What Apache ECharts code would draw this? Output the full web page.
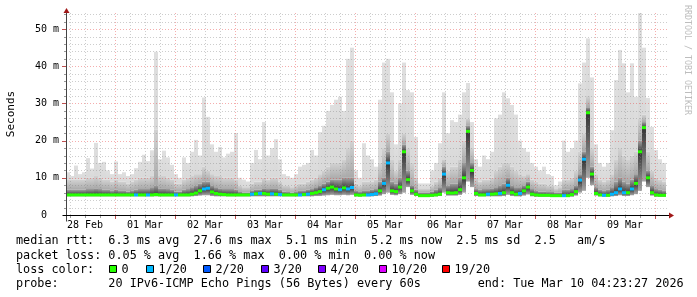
<!DOCTYPE html>
<html><head><meta charset="utf-8">
<script src="https://cdn.jsdelivr.net/npm/echarts@6/dist/echarts.min.js"></script>
<style>html,body{margin:0;padding:0;background:#fff}#c{width:697px;height:297px}</style>
</head><body><div id="c"></div>
<script>
// time axis in hours since 28 Feb 00:00 ; graph spans 28 Feb 04:23:27 -> 10 Mar 04:23:27
const startHour = 4.3908;
const endHour = 244.3908;
const stepHours = 1.6;          // one sampled column
const yMax = 54.6;              // ms
const dayLabels = ['28 Feb','01 Mar','02 Mar','03 Mar','04 Mar','05 Mar','06 Mar','07 Mar','08 Mar','09 Mar'];
const dayLabelHours = [12,36,60,84,108,132,156,180,204,228];
const yTickValues = [0,10,20,30,40,50];

// smoke: max ping (light), ~p90 (medium), ~p75 (dark), median, min ping  [ms]
const maxPing = [
 11.5,10.5,13.3,11,11.5,15.3,12.5,19.4,14,14.3,
 12,11,14.4,11,11.5,10.5,11,12.6,14.3,16.2,
 14.5,17.4,43.9,15,17.3,15.5,13.5,11,10,15.5,
 14,17,20.2,16,31.6,26.4,19,17,18.3,15.5,
 16.5,17,22,10,9.5,9,14,17.5,15,25,
 16,18,20.4,15,11,10.5,10,11,13,13.5,
 14,17.5,16,22.3,24,28,29.6,31,31.8,28,
 42,45,12,10,19.3,16,15,13,31,41,
 42,33,19,30,41,33.6,33,21,8.5,8.5,
 8.5,12,14,19.3,33,22,25.5,25,27,33,
 35.5,25,15,13,16,15,17,26,27,33,
 31.4,29.6,27,20,18,17,14,13,12,13,
 11,10.5,8,9,20,17,18,20,35.4,41,
 47.5,37,19,14,13,14,22.8,36.3,44.4,40.8,
 33,40.8,31.8,54.3,45,31.5,23.7,17.5,15,14
];
const p90Ping = [
 9.5,9.5,9.5,9.5,9.5,10,10,10.5,10,9.5,
 9.5,9,9.5,9,9,8.5,9,9.5,10,10,
 10,10.5,23,10.5,10.5,10,9.5,8.5,8.5,9.5,
 10,10.5,11,11,13,12,11,10.5,10.5,10,
 10,10,9.5,8,7.5,7.5,8.5,9,9,10,
 9.5,10,10,9,8,8,7.5,8,8.5,8.5,
 9,9.5,10,11,12,13,14,14,14,15,
 18,20,8.5,8,9,9,9,9.5,14,18,
 22,15,12,15,22,18,14,10,7,7,
 7,8,9,10,15,12,13,13,15,20,
 26,18,10,9,9.5,9.5,10,12,13,14,
 14,13,12,11,10.5,11,9.5,9,8.5,8.5,
 8,8,7,7.5,9.5,9.5,10,12,17,22,
 32,18,11,9.5,9,9.5,11,15,18,16,
 15,16,17,26,27,17,12,10,9.5,9
];
const p75Ping = [
 6.8,6.8,6.8,6.8,6.8,7,7,7.2,7,6.8,
 6.8,6.5,6.8,6.5,6.5,6.3,6.5,6.8,7,7,
 7,7.5,8,7.2,7.2,7,6.8,6.3,6.3,6.8,
 7,7.5,8,8.5,9,9,8,7.5,7.2,7,
 7,7,6.8,6.2,6,6,6.5,6.8,6.8,7.2,
 7,7.2,7.2,6.8,6.3,6.2,6,6.2,6.5,6.5,
 6.8,7,7.5,8,8.5,9,9.5,9.5,9.5,10,
 10,10,6.5,6.2,6.5,6.5,6.8,7,9,10,
 17,9,8.5,10,19,12,8,6.8,6,6,
 6,6.3,6.8,7.5,13,8,8.5,8.5,10,14,
 24,14,7,6.8,7,7,7.2,7.5,8,8.5,
 10,8,7.5,7.5,8,9,7,6.5,6.3,6.3,
 6.2,6.2,6,6,6.8,6.8,7,8,11,17,
 29,13,7.5,6.8,6.5,6.8,7.5,9,10,9,
 8.5,9.5,11,20,25,12,8,7,6.8,6.5
];
const medianPing = [
 5.4,5.4,5.4,5.4,5.4,5.4,5.4,5.4,5.4,5.4,
 5.4,5.4,5.4,5.4,5.4,5.4,5.4,5.4,5.4,5.4,
 5.4,5.4,5.5,5.4,5.4,5.4,5.4,5.4,5.4,5.4,
 5.4,5.6,5.9,6.5,7.0,7.2,6.2,5.8,5.6,5.5,
 5.4,5.4,5.4,5.4,5.4,5.4,5.6,5.7,5.8,5.8,
 5.6,5.7,5.6,5.5,5.4,5.4,5.4,5.4,5.4,5.5,
 5.6,5.8,6.0,6.3,6.8,7.2,7.5,7.0,6.8,7.3,
 7.0,7.4,5.4,5.3,5.4,5.4,5.5,5.7,6.5,8.5,
 14,6.5,6.3,7.5,17,9.5,6.5,5.6,5.2,5.2,
 5.2,5.3,5.4,5.6,11,6.0,5.9,6.0,6.8,10,
 22.5,12,5.8,5.4,5.4,5.6,5.6,5.7,5.8,6.0,
 8.0,6.0,5.6,5.8,6.5,7.5,5.6,5.4,5.3,5.3,
 5.3,5.2,5.2,5.2,5.2,5.2,5.5,6.3,9.4,15,
 27.5,11,5.8,5.4,5.3,5.3,5.6,6.0,7.0,6.0,
 6.0,7.0,8.5,17,23.5,10,6.0,5.4,5.3,5.3
];
const minPing = [
 5,5,5,5,5,5,5,5,5,5,
 5,5,5,5,5,5,5,5,5,5,
 5,5,5,5,5,5,5,5,5,5,
 5,5,5.1,5.2,5.3,5.3,5.1,5,5,5,
 5,5,5,5,5,5,5,5,5,5,
 5,5,5,5,5,5,5,5,5,5,
 5,5,5.1,5.1,5.2,5.3,5.4,5.3,5.3,5.4,
 5.3,5.4,5,5,5,5,5,5.1,5.2,5.6,
 6,5.4,5.3,5.6,6,7.5,5.4,5.1,4.9,4.9,
 4.9,4.9,5,5.1,6,5.2,5.2,5.2,5.4,6,
 9,7.5,5.1,5,5,5,5,5,5,5.1,
 5.4,5.1,5,5,5.2,5.5,5,4.9,4.9,4.9,
 4.9,4.9,4.9,4.9,4.9,4.9,4.9,5.2,6,6.5,
 10,8,5.2,5,4.9,4.9,5,5.1,5.3,5.1,
 5.1,5.3,5.6,6.5,9,7.5,5.2,4.9,4.9,4.9
];
// lost pings out of 20 for each column (index into loss colour table)
const lossIndex = [
 0,0,0,0,0,0,0,0,0,0,
 0,0,0,0,0,0,0,1,0,0,
 1,0,0,0,0,0,0,1,0,0,
 0,0,0,0,1,1,0,0,0,0,
 0,0,0,0,0,0,1,0,1,0,
 0,1,0,1,0,0,0,0,1,0,
 1,0,0,0,1,0,0,0,1,0,
 1,1,0,0,0,1,1,1,0,1,
 1,0,0,0,0,0,0,0,0,0,
 0,0,0,0,1,0,0,0,0,0,
 0,0,0,0,0,1,0,0,1,0,
 1,0,0,1,0,0,0,0,0,0,
 0,0,0,0,1,0,0,0,1,1,
 0,0,0,0,1,0,1,1,1,1,
 0,1,0,0,0,0,0,0,0,0
];
const lossColors = ['#26ff00','#00b8ff','#0059ff','#5e00ff','#7e00ff','#dd00ff','#ff0000'];
const lossLabels = ['0','1/20','2/20','3/20','4/20','10/20','19/20'];

const legendLines = [
 'median rtt:  6.3 ms avg  27.6 ms max  5.1 ms min  5.2 ms now  2.5 ms sd  2.5   am/s',
 'packet loss: 0.05 % avg  1.66 % max  0.00 % min  0.00 % now',
 'loss color:',
 'probe:       20 IPv6-ICMP Echo Pings (56 Bytes) every 60s        end: Tue Mar 10 04:23:27 2026'
];

const MONO = '"DejaVu Sans Mono", "Liberation Mono", monospace';

const smokeData = maxPing.map((h, i) => [startHour + i * stepHours, minPing[i], medianPing[i], p75Ping[i], p90Ping[i], h, i]);
const medianData = medianPing.map((m, i) => [startHour + i * stepHours, m, lossIndex[i], i]);

function grad(top, bottom) {
  return {type: 'linear', x: 0, y: 0, x2: 0, y2: 1, colorStops: [{offset: 0, color: top}, {offset: 1, color: bottom}]};
}

const chart = echarts.init(document.getElementById('c'), null, {renderer: 'canvas'});

const option = {
  animation: false,
  backgroundColor: '#ffffff',
  grid: {left: 66, right: 31, top: 12, bottom: 82},
  xAxis: {type: 'value', min: startHour, max: endHour, show: false},
  yAxis: {
    type: 'value', min: 0, max: yMax, interval: 10,
    axisLine: {show: false}, axisTick: {show: false}, splitLine: {show: false},
    axisLabel: {
      margin: 7, color: '#000', fontFamily: MONO, fontSize: 10,
      formatter: v => yTickValues.indexOf(v) < 0 ? '' : (v === 0 ? '0  ' : v + ' m')
    }
  },
  series: [
    { // smoke
      type: 'custom', z: 1, clip: true,
      encode: {x: 0, y: 5},
      data: smokeData,
      renderItem: function (params, api) {
        const t = api.value(0);
        const x0 = api.coord([t, 0])[0];
        const x1 = api.coord([t + stepHours, 0])[0];
        const yOf = v => api.coord([t, v])[1];
        const lo = api.value(1), med = api.value(2), dk = api.value(3), mid = api.value(4), hi = api.value(5);
        const bands = [
          [mid, hi, '#dfdfdf', '#d9d9d9'],
          [dk, mid, '#d2d2d2', '#a9a9a9'],
          [med, dk, '#a0a0a0', '#3c3c3c'],
          [lo, med, '#333333', '#a6a6a6']
        ];
        const children = [];
        bands.forEach(b => {
          if (b[1] > b[0]) {
            const yt = yOf(b[1]), yb = yOf(b[0]);
            children.push({type: 'rect', shape: {x: x0, y: yt, width: x1 - x0, height: yb - yt},
              style: {fill: grad(b[2], b[3])}});
          }
        });
        return {type: 'group', children: children};
      }
    },
    { // grid lines on top of smoke
      type: 'custom', z: 3, clip: false, silent: true,
      data: [[startHour, 0]],
      renderItem: function (params, api) {
        const children = [];
        const xL = api.coord([startHour, 0])[0], xR = api.coord([endHour, 0])[0];
        const yB = api.coord([startHour, 0])[1], yT = api.coord([startHour, yMax])[1];
        for (let h = 6; h < endHour; h += 6) {
          if (h <= startHour) continue;
          const x = Math.round(api.coord([h, 0])[0]) + 0.5;
          const major = h % 24 === 0;
          children.push({type: 'line', shape: {x1: x, y1: yB, x2: x, y2: yT},
            style: {stroke: major ? 'rgba(230,60,60,0.42)' : 'rgba(130,130,130,0.4)', lineWidth: 1, lineDash: [1, 2]}});
          children.push({type: 'line', shape: {x1: x, y1: yB + 1, x2: x, y2: yB + (major ? 4 : 3)},
            style: {stroke: major ? '#c05050' : '#999', lineWidth: 1}});
        }
        for (let v = 2; v < yMax; v += 2) {
          const y = Math.round(api.coord([startHour, v])[1]) + 0.5;
          const major = v % 10 === 0;
          children.push({type: 'line', shape: {x1: xL, y1: y, x2: xR + 2, y2: y},
            style: {stroke: major ? 'rgba(230,60,60,0.42)' : 'rgba(130,130,130,0.4)', lineWidth: 1, lineDash: [1, 2]}});
          children.push({type: 'line', shape: {x1: xL - (major ? 4 : 2), y1: y, x2: xL, y2: y},
            style: {stroke: major ? '#c05050' : '#999', lineWidth: 1}});
        }
        return {type: 'group', children: children};
      }
    },
    { // median, coloured by loss
      type: 'custom', z: 4, clip: true,
      encode: {x: 0, y: 1},
      data: medianData,
      renderItem: function (params, api) {
        const t = api.value(0);
        const x0 = api.coord([t, 0])[0];
        const x1 = api.coord([t + stepHours, 0])[0];
        const y = api.coord([t, api.value(1)])[1];
        return {type: 'rect', shape: {x: x0, y: y - 1.5, width: x1 - x0, height: 3},
          style: {fill: lossColors[api.value(2)]}};
      }
    },
    { // axes, arrows, day labels
      type: 'custom', z: 5, clip: false, silent: true,
      data: [[startHour, 0]],
      renderItem: function (params, api) {
        const children = [];
        const xL = Math.round(api.coord([startHour, 0])[0]) + 0.5;
        const xR = api.coord([endHour, 0])[0];
        const yB = Math.round(api.coord([startHour, 0])[1]) + 0.5;
        const yT = api.coord([startHour, yMax])[1];
        children.push({type: 'line', shape: {x1: xL, y1: yB + 6, x2: xL, y2: yT - 1}, style: {stroke: '#444', lineWidth: 1}});
        children.push({type: 'line', shape: {x1: xL - 4, y1: yB, x2: xR + 3, y2: yB}, style: {stroke: '#000', lineWidth: 1}});
        children.push({type: 'polygon', shape: {points: [[xL - 3, yT + 1], [xL, yT - 4], [xL + 3, yT + 1]]}, style: {fill: '#a01818'}});
        children.push({type: 'polygon', shape: {points: [[xR + 3, yB - 3], [xR + 8, yB], [xR + 3, yB + 3]]}, style: {fill: '#a01818'}});
        dayLabels.forEach((lab, k) => {
          const x = api.coord([dayLabelHours[k], 0])[0];
          children.push({type: 'text', x: x, y: yB + 10,
            style: {text: lab, fill: '#000', font: '10px ' + MONO, align: 'center', verticalAlign: 'middle'}});
        });
        return {type: 'group', children: children};
      }
    }
  ],
  graphic: []
};

const g = [];
g.push({type: 'text', x: 11, y: 114, rotation: Math.PI / 2,
  style: {text: 'Seconds', fill: '#000', font: '11px ' + MONO, align: 'center', verticalAlign: 'middle'}});
g.push({type: 'text', x: 687, y: 60, rotation: -Math.PI / 2,
  style: {text: 'RRDTOOL / TOBI OETIKER', fill: '#bdbdbd', font: '8.3px ' + MONO, align: 'center', verticalAlign: 'middle'}});
const lineY = [241, 255.5, 269.5, 283.5];
legendLines.forEach((s, k) => {
  g.push({type: 'text', x: 16, y: lineY[k], style: {text: s, fill: '#000', font: '11.8px ' + MONO, align: 'left', verticalAlign: 'middle'}});
});
const boxX = [109.5, 146.5, 203.5, 261.5, 318.5, 379.5, 442.5];
lossLabels.forEach((lab, k) => {
  g.push({type: 'rect', shape: {x: boxX[k], y: 265.5, width: 7, height: 7}, style: {fill: lossColors[k], stroke: '#000', lineWidth: 1}});
  g.push({type: 'text', x: boxX[k] + 12, y: lineY[2], style: {text: lab, fill: '#000', font: '11.8px ' + MONO, align: 'left', verticalAlign: 'middle'}});
});
option.graphic = g;

chart.setOption(option);
</script>
</body></html>
